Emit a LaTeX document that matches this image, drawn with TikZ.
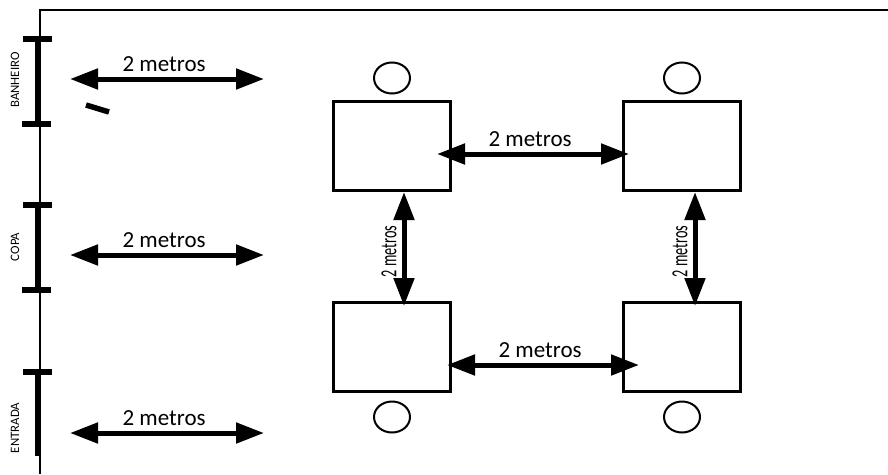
\documentclass[tikz,border=0pt]{standalone}
\usepackage{fontspec}
\setmainfont{Carlito}
\usetikzlibrary{arrows.meta,shapes.geometric}

\begin{document}
\begin{tikzpicture}[x=1pt,y=-1pt,auto,node distance=290pt,line width=2pt]
  \tikzstyle{every edge}=[draw,line width=5pt,{Triangle[length=28pt,width=20pt]}-{Triangle[length=28pt,width=20pt]}]
  \tikzstyle{mesa}=[draw,line width=2.4pt,rectangle,minimum width=117pt,minimum height=89pt,inner sep=0pt]
  \tikzstyle{cadeira}=[draw,ellipse,minimum width=36pt,minimum height=31pt,inner sep=0pt]
  \tikzstyle{dist}=[font=\fontsize{23}{25}\selectfont,inner sep=0pt]
  \tikzstyle{distv}=[font=\fontsize{23}{25}\selectfont,inner sep=0pt,rotate=90,xscale=0.62,anchor=south]
  \tikzstyle{porta}=[font=\fontsize{12.8}{14}\selectfont,rotate=90,inner sep=0pt]
  \tikzstyle{barra}=[line width=5.5pt]
  \useasboundingbox (0,0) rectangle (888,474);

  % parede
  \coordinate (P0) at (888,10);
  \coordinate (P1) at (40,10);
  \coordinate (P2) at (40,474);
  \draw (P0) -- (P1) -- (P2);

  % banheiro
  \coordinate (B1) at (38,39);
  \coordinate (B2) at (38,124);
  \coordinate (B1a) at (23,39);
  \coordinate (B1b) at (52,39);
  \coordinate (B2a) at (22,124);
  \coordinate (B2b) at (51,124);
  \draw[barra] (B1) -- (B2);
  \draw[line width=6pt] (B1a) -- (B1b);
  \draw[line width=6pt] (B2a) -- (B2b);
  \node[porta] (banheiro) at (15,80) {BANHEIRO};

  % copa
  \coordinate (C1) at (38,205);
  \coordinate (C2) at (38,290);
  \coordinate (C1a) at (23,205);
  \coordinate (C1b) at (52,205);
  \coordinate (C2a) at (22,290);
  \coordinate (C2b) at (51,290);
  \draw[barra] (C1) -- (C2);
  \draw[line width=6pt] (C1a) -- (C1b);
  \draw[line width=6pt] (C2a) -- (C2b);
  \node[porta] (copa) at (15,247) {COPA};

  % entrada
  \coordinate (E1) at (38,372);
  \coordinate (E2) at (38,456);
  \coordinate (E1a) at (23,372);
  \coordinate (E1b) at (52,372);
  \draw[barra] (E1) -- (E2);
  \draw[line width=6pt] (E1a) -- (E1b);
  \node[porta] (entrada) at (15,428) {ENTRADA};

  % risco
  \coordinate (R1) at (86,105);
  \coordinate (R2) at (109,112);
  \draw[barra] (R1) -- (R2);

  \node[mesa] (A)                                   at (392,146) {};
  \node[mesa] (B) [right of=A]                      {};
  \node[mesa] (C) [below of=A,node distance=201pt]  {};
  \node[mesa] (D) [right of=C]                      {};

  \node[cadeira] (cA) [above of=A,node distance=68pt] {};
  \node[cadeira] (cB) [above of=B,node distance=68pt] {};
  \node[cadeira] (cC) [below of=C,node distance=70pt] {};
  \node[cadeira] (cD) [below of=D,node distance=70pt] {};

  \coordinate (L1a) at (70,79);
  \coordinate (L1b) at (264,79);
  \coordinate (L2a) at (70,255);
  \coordinate (L2b) at (264,255);
  \coordinate (L3a) at (70,433);
  \coordinate (L3b) at (264,433);
  \coordinate (Ha) at (437,154);
  \coordinate (Hb) at (629,154);
  \coordinate (Ia) at (447,365);
  \coordinate (Ib) at (639,365);
  \coordinate (Va) at (404,192);
  \coordinate (Vb) at (404,306);
  \coordinate (Wa) at (695,192);
  \coordinate (Wb) at (695,306);

  \path (L1a) edge node[dist,pos=0.485,above=5pt] (t1) {2 metros} (L1b)
        (L2a) edge node[dist,pos=0.485,above=5pt] (t2) {2 metros} (L2b)
        (L3a) edge node[dist,pos=0.485,above=5pt] (t3) {2 metros} (L3b)
        (Ha)  edge node[dist,pos=0.485,above=5pt] (t4) {2 metros} (Hb)
        (Ia)  edge node[dist,pos=0.485,above=5pt] (t5) {2 metros} (Ib)
        (Va)  edge node[distv,pos=0.52,yshift=5pt] (t6) {2 metros} (Vb)
        (Wa)  edge node[distv,pos=0.52,yshift=5pt] (t7) {2 metros} (Wb);
\end{tikzpicture}
\end{document}
